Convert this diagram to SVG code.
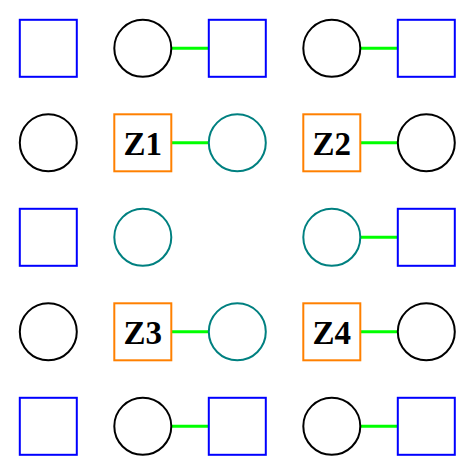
<svg xmlns="http://www.w3.org/2000/svg" width="476" height="476" viewBox="0 0 476 476">
<style>
.sq{fill:#fff;stroke:#0000ff;stroke-width:2}
.z{fill:#fff;stroke:#ff8000;stroke-width:2}
.c{fill:#fff;stroke:#000;stroke-width:2}
.t{fill:#fff;stroke:#008080;stroke-width:2}
.e{stroke:#00ff00;stroke-width:3;fill:none}
text{font-family:"Liberation Serif",serif;font-weight:bold;font-size:33px;text-anchor:middle;dominant-baseline:central;fill:#000}
</style>
<rect width="476" height="476" fill="#fff"/>
<g id="edges">
<line class="e" x1="171.3" y1="48.3" x2="208.8" y2="48.3"/>
<line class="e" x1="360.3" y1="48.3" x2="397.8" y2="48.3"/>
<line class="e" x1="171.3" y1="142.8" x2="208.8" y2="142.8"/>
<line class="e" x1="360.3" y1="142.8" x2="397.8" y2="142.8"/>
<line class="e" x1="360.3" y1="237.3" x2="397.8" y2="237.3"/>
<line class="e" x1="171.3" y1="331.8" x2="208.8" y2="331.8"/>
<line class="e" x1="360.3" y1="331.8" x2="397.8" y2="331.8"/>
<line class="e" x1="171.3" y1="426.3" x2="208.8" y2="426.3"/>
<line class="e" x1="360.3" y1="426.3" x2="397.8" y2="426.3"/>
</g>
<g id="n00"><rect class="sq" x="19.8" y="19.8" width="57" height="57"/></g>
<g id="n01"><circle class="c" cx="142.8" cy="48.3" r="28.5"/></g>
<g id="n02"><rect class="sq" x="208.8" y="19.8" width="57" height="57"/></g>
<g id="n03"><circle class="c" cx="331.8" cy="48.3" r="28.5"/></g>
<g id="n04"><rect class="sq" x="397.8" y="19.8" width="57" height="57"/></g>
<g id="n10"><circle class="c" cx="48.3" cy="142.8" r="28.5"/></g>
<g id="Z1"><rect class="z" x="114.3" y="114.3" width="57" height="57"/><text x="142.8" y="143.5">Z1</text></g>
<g id="n12"><circle class="t" cx="237.3" cy="142.8" r="28.5"/></g>
<g id="Z2"><rect class="z" x="303.3" y="114.3" width="57" height="57"/><text x="331.8" y="143.5">Z2</text></g>
<g id="n14"><circle class="c" cx="426.3" cy="142.8" r="28.5"/></g>
<g id="n20"><rect class="sq" x="19.8" y="208.8" width="57" height="57"/></g>
<g id="n21"><circle class="t" cx="142.8" cy="237.3" r="28.5"/></g>
<g id="n23"><circle class="t" cx="331.8" cy="237.3" r="28.5"/></g>
<g id="n24"><rect class="sq" x="397.8" y="208.8" width="57" height="57"/></g>
<g id="n30"><circle class="c" cx="48.3" cy="331.8" r="28.5"/></g>
<g id="Z3"><rect class="z" x="114.3" y="303.3" width="57" height="57"/><text x="142.8" y="332.5">Z3</text></g>
<g id="n32"><circle class="t" cx="237.3" cy="331.8" r="28.5"/></g>
<g id="Z4"><rect class="z" x="303.3" y="303.3" width="57" height="57"/><text x="331.8" y="332.5">Z4</text></g>
<g id="n34"><circle class="c" cx="426.3" cy="331.8" r="28.5"/></g>
<g id="n40"><rect class="sq" x="19.8" y="397.8" width="57" height="57"/></g>
<g id="n41"><circle class="c" cx="142.8" cy="426.3" r="28.5"/></g>
<g id="n42"><rect class="sq" x="208.8" y="397.8" width="57" height="57"/></g>
<g id="n43"><circle class="c" cx="331.8" cy="426.3" r="28.5"/></g>
<g id="n44"><rect class="sq" x="397.8" y="397.8" width="57" height="57"/></g>
</svg>
